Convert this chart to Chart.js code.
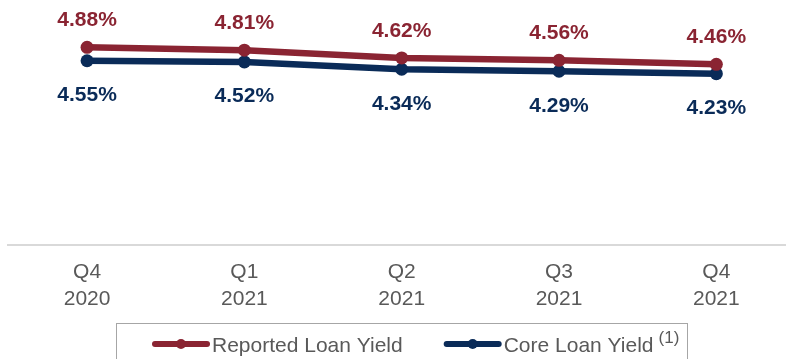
<!DOCTYPE html>
<html>
<head>
<meta charset="utf-8">
<style>
  html, body { margin: 0; padding: 0; background: #fff; width: 786px; height: 359px; overflow: hidden; }
  #wrap { position: relative; width: 795px; height: 359px; }
</style>
<script src="https://cdn.jsdelivr.net/npm/chart.js@4/dist/chart.umd.min.js"></script>
</head>
<body>
<div id="wrap"><canvas id="yieldChart"></canvas></div>
<script>
// Quarter labels (two lines each) and loan yield series, in percent
const quarters = [['Q4', '2020'], ['Q1', '2021'], ['Q2', '2021'], ['Q3', '2021'], ['Q4', '2021']];
const reportedYield = [4.88, 4.81, 4.62, 4.56, 4.46];
const coreYield = [4.55, 4.52, 4.34, 4.29, 4.23];
const seriesNames = ['Reported Loan Yield', 'Core Loan Yield'];
const seriesNotes = ['', '(1)'];

const RED = '#8A2432';
const NAVY = '#0A2B58';
const FONT = '"Liberation Sans", Arial, sans-serif';

// Value labels: reported above its line, core below its line
const valueLabels = {
  id: 'valueLabels',
  afterDatasetsDraw(chart) {
    const ctx = chart.ctx;
    ctx.save();
    ctx.font = 'bold 21px ' + FONT;
    ctx.textAlign = 'center';
    ctx.textBaseline = 'alphabetic';
    chart.data.datasets.forEach((ds, i) => {
      const meta = chart.getDatasetMeta(i);
      ctx.fillStyle = ds.borderColor;
      meta.data.forEach((pt, j) => {
        const txt = ds.data[j].toFixed(2) + '%';
        const y = i === 0 ? pt.y - 21 : pt.y + 40.5;
        ctx.fillText(txt, pt.x, y);
      });
    });
    ctx.restore();
  }
};

// Boxed legend with line-and-dot swatches and footnote markers
const boxedLegend = {
  id: 'boxedLegend',
  afterDraw(chart) {
    const ctx = chart.ctx;
    ctx.save();
    ctx.strokeStyle = '#A6A6A6';
    ctx.lineWidth = 1;
    ctx.strokeRect(116.5, 323.5, 571, 60);
    const yMid = 344;
    let x = 155;
    chart.data.datasets.forEach((ds, i) => {
      ctx.strokeStyle = ds.borderColor;
      ctx.lineWidth = 6;
      ctx.lineCap = 'round';
      ctx.beginPath();
      ctx.moveTo(x, yMid);
      ctx.lineTo(x + 52, yMid);
      ctx.stroke();
      ctx.fillStyle = ds.borderColor;
      ctx.beginPath();
      ctx.arc(x + 26, yMid, 5, 0, Math.PI * 2);
      ctx.fill();
      x += 57;
      ctx.fillStyle = '#595959';
      ctx.font = '21px ' + FONT;
      ctx.textAlign = 'left';
      ctx.textBaseline = 'alphabetic';
      ctx.fillText(ds.label, x, yMid + 7.5);
      x += ctx.measureText(ds.label).width;
      if (seriesNotes[i]) {
        ctx.font = '17px ' + FONT;
        x += 5;
        ctx.fillText(seriesNotes[i], x, yMid - 1);
        x += ctx.measureText(seriesNotes[i]).width;
      }
      x += 44;
    });
    ctx.restore();
  }
};

new Chart(document.getElementById('yieldChart'), {
  type: 'line',
  data: {
    labels: quarters,
    datasets: [
      {
        label: seriesNames[0],
        data: reportedYield,
        borderColor: RED,
        backgroundColor: RED,
        borderWidth: 6.5,
        pointRadius: 6.5,
        pointHoverRadius: 6.5,
        pointBorderWidth: 0,
        tension: 0
      },
      {
        label: seriesNames[1],
        data: coreYield,
        borderColor: NAVY,
        backgroundColor: NAVY,
        borderWidth: 6.5,
        pointRadius: 6.5,
        pointHoverRadius: 6.5,
        pointBorderWidth: 0,
        tension: 0
      }
    ]
  },
  options: {
    responsive: true,
    maintainAspectRatio: false,
    animation: false,
    events: [],
    layout: { autoPadding: false, padding: { left: 8.4, right: 0, top: 2, bottom: 33 } },
    plugins: { legend: { display: false }, tooltip: { enabled: false } },
    scales: {
      x: {
        offset: true,
        grid: { display: false, drawTicks: false },
        border: { display: true, color: '#D9D9D9', width: 2 },
        ticks: {
          color: '#595959',
          padding: 13.5,
          font: { family: FONT, size: 21, lineHeight: 27 / 21 },
          maxRotation: 0,
          autoSkip: false
        }
      },
      y: {
        display: false,
        min: 0,
        max: 6
      }
    }
  },
  plugins: [valueLabels, boxedLegend]
});
</script>
</body>
</html>
